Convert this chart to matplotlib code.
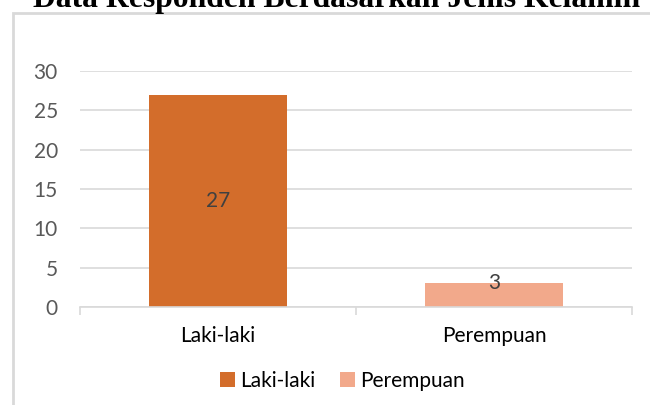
import matplotlib.pyplot as plt
from matplotlib.patches import Rectangle

categories = ['Laki-laki', 'Perempuan']
values = [27, 3]
colors = ['#D36D2B', '#F2A98B']
yticks = [0, 5, 10, 15, 20, 25, 30]
title = 'Data Responden Berdasarkan Jenis Kelamin'

W, H = 650, 405
fig = plt.figure(figsize=(W / 100, H / 100), dpi=100)
plt.rcParams['font.family'] = ['Lato', 'DejaVu Sans']

# chart border (extends past right/bottom edge)
fig.patches.append(Rectangle((13 / W, -0.1), 1.0, (H - 13) / H + 0.1,
                             transform=fig.transFigure, fill=False,
                             edgecolor='#D9D9D9', linewidth=2))

# title, clipped at top like the source
fig.text(337 / W, 1 - 7 / H, title, ha='center', va='baseline',
         fontfamily='Liberation Serif', fontweight='bold', fontsize=22.8)

ax = fig.add_axes([80 / W, 1 - 307 / H, (632 - 80) / W, (307 - 71) / H])
x = range(len(categories))
bars = ax.bar(x, values, width=0.5, color=colors, label=categories, zorder=2)
ax.set_xlim(-0.5, 1.5)
ax.set_ylim(0, 30)
ax.set_yticks(yticks)
ax.grid(axis='y', color='#D9D9D9', linewidth=1.2, zorder=0)
for s in ['top', 'right', 'left']:
    ax.spines[s].set_visible(False)
ax.spines['bottom'].set_color('#D9D9D9')
ax.spines['bottom'].set_linewidth(1.2)
ax.tick_params(axis='y', length=0, labelsize=15, labelcolor='#595959', pad=16)
ax.set_xticks([-0.5, 0.5, 1.5], minor=False)
ax.set_xticklabels([])
ax.tick_params(axis='x', which='major', length=6, color='#D9D9D9', width=1.2)
ax.set_xticks(list(x), minor=True)
ax.set_xticklabels(categories, minor=True)
ax.tick_params(axis='x', which='minor', length=0, labelsize=15,
               labelcolor='#000000', pad=14)

for i, v in enumerate(values):
    ax.text(i, v / 2 if v > 5 else v, str(v), ha='center', va='center',
            fontsize=15, color='#404040', zorder=3)

ax.legend(loc='upper center', bbox_to_anchor=(0.475, -0.19), ncol=2, frameon=False,
          fontsize=15, handlelength=0.7, handleheight=0.7, handletextpad=0.25,
          columnspacing=1.2)

fig.savefig('out.png', dpi=100)
